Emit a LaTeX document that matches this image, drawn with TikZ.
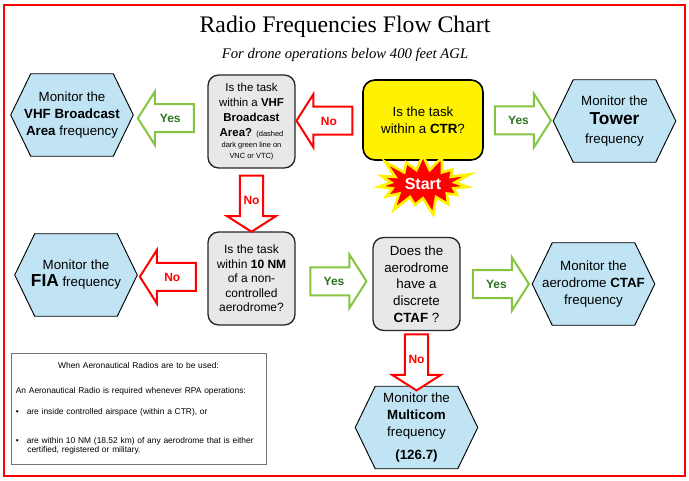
\documentclass[tikz,border=0pt]{standalone}
\usepackage{fontspec}
\setmainfont{Liberation Sans}
\newfontfamily\headfont{Liberation Serif}
\usetikzlibrary{shapes.arrows,shapes.symbols,calc,backgrounds}

\definecolor{hexblue}{RGB}{193,228,245}
\definecolor{askgray}{RGB}{232,232,232}
\definecolor{yesline}{RGB}{132,196,65}
\definecolor{yestext}{RGB}{46,117,33}

\tikzset{
  hexbox/.style={minimum width=91.5pt, minimum height=61.5pt, inner sep=0pt, align=center,
    font=\fontsize{10}{12.75}\selectfont},
  hexline/.style={draw=black, line width=0.7pt, fill=hexblue},
  askbox/.style={draw=black!85, line width=1pt, fill=askgray, rounded corners=8pt,
    minimum width=65.25pt, minimum height=69.75pt, inner sep=0pt, align=center},
  ctrbox/.style={draw=black, line width=1.2pt, fill=yellow, rounded corners=9pt,
    minimum width=90pt, minimum height=60pt, align=center, font=\fontsize{10}{12.75}\selectfont},
  blockarrow/.style={single arrow, line width=1.5pt, fill=white, minimum height=42pt,
    single arrow head extend=9.5pt, single arrow tip angle=115, inner xsep=2pt, inner ysep=6.5pt,
    text height=6.5pt, text depth=0pt, font=\bfseries\fontsize{9}{11}\selectfont},
  yesarrow/.style={blockarrow, draw=yesline, text=yestext},
  noarrow/.style={blockarrow, draw=red, text=red},
  burst/.style={starburst, starburst points=15, starburst point height=15pt, fill=red, draw=yellow,
    line width=2pt, minimum width=66pt, minimum height=44pt, text=white,
    font=\bfseries\fontsize{12}{14}\selectfont},
  infobox/.style={draw=black!55, line width=0.7pt, fill=white, minimum width=191.25pt,
    minimum height=83.25pt, text width=184pt, inner xsep=3.6pt, align=left,
    font=\fontsize{6.3}{7}\selectfont}
}

\begin{document}
\begin{tikzpicture}[x=0.75pt,y=-0.75pt]
  \useasboundingbox (0,0) rectangle (689,481);
  % outer frame
  \draw[red, line width=2pt] (4,5) rectangle (685,476);

  % heading
  \node[font=\headfont\fontsize{17.8}{20}\selectfont] (title) at (345,27) {Radio Frequencies Flow Chart};
  \node[font=\headfont\itshape\fontsize{11}{13}\selectfont] (subtitle) at (345,55) {For drone operations below 400 feet AGL};

  % top row
  \node[hexbox] (vhf) at (72,115) {Monitor the\\\textbf{VHF Broadcast}\\\textbf{Area} frequency};
  \node[askbox, font=\fontsize{8.6}{11.25}\selectfont] (qvhf) at (251.5,121.5)
    {Is the task\\within a \textbf{VHF}\\\textbf{Broadcast}\\\textbf{Area?} {\fontsize{5.6}{7}\selectfont(dashed}\\[-3pt]
     {\fontsize{5.6}{7}\selectfont dark green line on}\\[-3pt]{\fontsize{5.6}{7}\selectfont VNC or VTC)}};
  \node[ctrbox] (ctr) at (423,120) {Is the task\\within a \textbf{CTR}?};
  \node[hexbox, font=\fontsize{10}{14.25}\selectfont] (tower) at (614.5,121)
    {Monitor the\\{\bfseries\fontsize{13}{14.25}\selectfont Tower}\\frequency};

  % the start burst sits over the bottom of the CTR box
  \node[burst] (start) at (423,184) {Start};

  % middle row
  \node[hexbox] (fia) at (76,275) {Monitor the\\{\bfseries\fontsize{13}{15}\selectfont FIA} frequency};
  \node[askbox, font=\fontsize{9}{10.9}\selectfont] (qnm) at (251.5,278.5)
    {Is the task\\within \textbf{10 NM}\\of a non-\\controlled\\aerodrome?};
  \node[askbox, font=\fontsize{10}{12.5}\selectfont] (qctaf) at (416.5,284)
    {Does the\\aerodrome\\have a\\discrete\\\textbf{CTAF} ?};
  \node[hexbox] (ctaf) at (593.5,284) {Monitor the\\aerodrome \textbf{CTAF}\\frequency};

  % bottom
  \node[hexbox] (multi) at (416.5,427.5) {Monitor the\\\textbf{Multicom}\\frequency\\[4pt]\textbf{(126.7)}};

  % hexagon outlines behind the text
  \begin{scope}[on background layer]
    \foreach \h in {vhf,tower,fia,ctaf,multi} {
      \draw[hexline] (\h.west) -- ([xshift=15pt]\h.north west) -- ([xshift=-15pt]\h.north east)
        -- (\h.east) -- ([xshift=-15pt]\h.south east) -- ([xshift=15pt]\h.south west) -- cycle;
    }
  \end{scope}

  % block arrows between the boxes
  \node[yesarrow, shape border rotate=180] (a1) at ($(vhf.east)!0.5!(qvhf.west)$) {Yes};
  \node[noarrow, shape border rotate=180] (a2) at ($(qvhf.east)!0.5!(ctr.west)$) {No};
  \node[yesarrow] (a3) at ($(ctr.east)!0.5!(tower.west)$) {Yes};
  \node[noarrow, shape border rotate=270] (a4) at ($(qvhf.south)!0.5!(qnm.north)$) {No};
  \node[noarrow, shape border rotate=180] (a5) at ($(fia.east)!0.5!(qnm.west)$) {No};
  \node[yesarrow] (a6) at ($(qnm.east)!0.5!(qctaf.west)$) {Yes};
  \node[yesarrow] (a7) at ($(qctaf.east)!0.5!(ctaf.west)$) {Yes};
  \node[noarrow, shape border rotate=270] (a8) at ($(qctaf.south)!0.5!(multi.north)$) {No};

  % when radios are needed
  \node[infobox] (info) at (138.5,408.5)
    {\hfill When Aeronautical Radios are to be used:\hfill\null\\[11.75pt]
     An Aeronautical Radio is required whenever RPA operations:\\[8.75pt]
     \textbullet\hspace{6pt}are inside controlled airspace (within a CTR), or\\[14.75pt]
     \textbullet\hspace{6pt}are within 10 NM (18.52 km) of any aerodrome that is either\\
     \hspace*{8.6pt}certified, registered or military.};
\end{tikzpicture}
\end{document}
